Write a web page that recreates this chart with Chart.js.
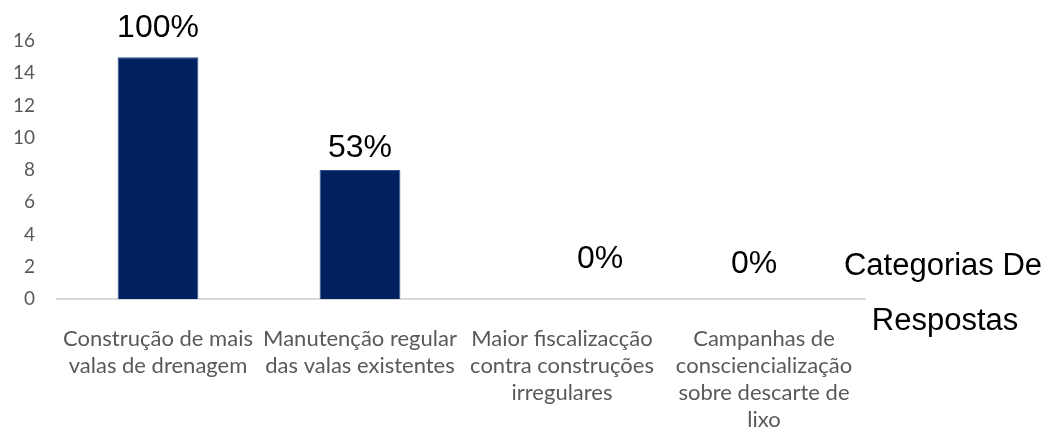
<!DOCTYPE html>
<html>
<head>
<meta charset="utf-8">
<script src="https://cdn.jsdelivr.net/npm/chart.js@4"></script>
<style>
  html, body { margin: 0; padding: 0; background: #fff; }
  #wrap { width: 1049px; height: 428px; position: relative; }
</style>
</head>
<body>
<div id="wrap"><canvas id="myChart"></canvas></div>
<script>
var categorias = [
    ["Construção de mais", "valas de drenagem"],
    ["Manutenção regular", "das valas existentes"],
    ["Maior fiscalizacção", "contra construções", "irregulares"],
    ["Campanhas de", "consciencialização", "sobre descarte de", "lixo"]
];
var valores = [15, 8, 0, 0];
var porcentajes = ["100%", "53%", "0%", "0%"];
var tituloEje = ["Categorias De", "Respostas"];

// etiquetas encima de las barras + titulo a la derecha
var etiquetas = {
    id: "etiquetas",
    afterDatasetsDraw: function(chart){
        var ctx = chart.ctx;
        var meta = chart.getDatasetMeta(0);
        var dx = [0, 0, 38, -10];
        var dy = [20, 13, 31, 26];
        ctx.save();
        ctx.fillStyle = "#000";
        ctx.font = "32px 'Liberation Sans', Arial, sans-serif";
        ctx.textAlign = "center";
        ctx.textBaseline = "alphabetic";
        meta.data.forEach(function(bar, i){
            ctx.fillText(porcentajes[i], bar.x + dx[i], bar.y - dy[i]);
        });
        ctx.font = "31px 'Liberation Sans', Arial, sans-serif";
        ctx.fillText(tituloEje[0], 943, 275);
        ctx.fillText(tituloEje[1], 945, 330);
        ctx.restore();
    }
};

var ctx = document.getElementById("myChart");
var myChart = new Chart(ctx, {
    type: "bar",
    data: {
        labels: categorias,
        datasets: [{
            data: valores,
            backgroundColor: "#002060",
            borderColor: "#2f4f8a",
            borderWidth: 1,
            barPercentage: 0.4,
            categoryPercentage: 1
        }]
    },
    options: {
        responsive: true,
        maintainAspectRatio: false,
        animation: false,
        layout: { padding: { top: 41, right: 184, bottom: 0, left: 0 } },
        plugins: { legend: { display: false }, tooltip: { enabled: false } },
        scales: {
            x: {
                grid: { display: false },
                border: { display: true, color: "#d9d9d9", width: 2 },
                ticks: {
                    color: "#595959",
                    font: { family: "Lato", size: 22, lineHeight: 1.23 },
                    maxRotation: 0,
                    autoSkip: false,
                    padding: 18
                },
                afterFit: function(scale){ scale.height = 129; }
            },
            y: {
                min: 0,
                max: 16,
                grid: { display: false, drawTicks: false },
                border: { display: false },
                ticks: {
                    stepSize: 2,
                    color: "#595959",
                    font: { family: "Lato", size: 19 },
                    padding: 22
                },
                afterFit: function(scale){ scale.width = 57; }
            }
        }
    },
    plugins: [etiquetas]
});
</script>
</body>
</html>
